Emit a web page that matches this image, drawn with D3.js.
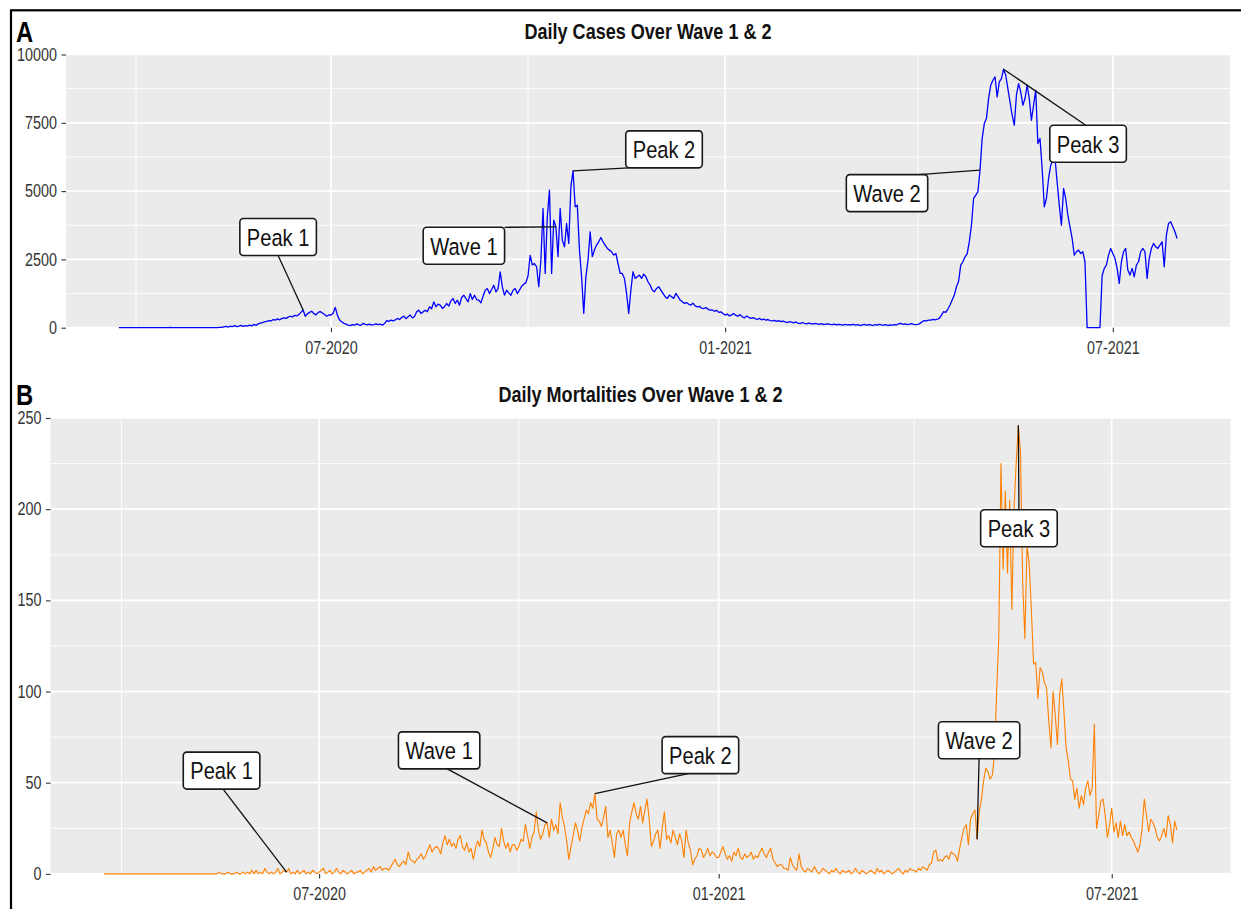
<!DOCTYPE html>
<html>
<head>
<meta charset="utf-8">
<script src="https://cdn.jsdelivr.net/npm/d3@7"></script>
<style>
  html, body { margin: 0; padding: 0; background: #ffffff; }
  svg { display: block; }
</style>
</head>
<body>
<svg id="chart" width="1241" height="909"></svg>
<script>
// ---- Daily series, one array per calendar month (first day: 24 Mar 2020) ----
const seriesStart = "2020-03-24";

// Daily confirmed cases
const casesMar2020 = [0, 1, 0, 2, 0, 0, 1, 0];
const casesApr2020 = [0, 0, 1, 0, 0, 0, 0, 0, 0, 0, 0, 0, 0, 2, 0, 0, 7, 2, 0, 0, 1, 0, 0, 0, 0, 0, 0, 0, 4, 2];
const casesMay2020 = [2, 1, 0, 3, 0, 5, 2, 1, 6, 13, 9, 30, 47, 25, 53, 41, 76, 38, 60, 86, 52, 75, 59, 92, 66, 120, 84, 140, 171, 185, 212];
const casesJun2020 = [230, 258, 246, 300, 276, 322, 290, 334, 362, 340, 385, 420, 392, 452, 430, 478, 560, 647, 418, 505, 560, 602, 516, 470, 558, 590, 540, 482, 420, 465];
const casesJul2020 = [465, 530, 745, 460, 280, 220, 160, 130, 95, 75, 110, 90, 140, 105, 85, 160, 120, 100, 130, 95, 115, 140, 110, 130, 90, 150, 260, 230, 280, 250, 285];
const casesAug2020 = [340, 300, 376, 425, 330, 400, 461, 360, 410, 583, 643, 522, 580, 640, 585, 765, 692, 947, 765, 862, 825, 704, 770, 886, 790, 983, 1068, 886, 1007, 825, 1105];
const casesSep2020 = [1190, 1068, 947, 1250, 1032, 1190, 1032, 1007, 910, 1153, 1372, 1432, 1250, 1396, 1554, 1311, 1432, 2040, 1493, 1190, 1372, 1275, 1190, 1372, 1432, 1250, 1372, 1518, 1590, 1650];
const casesOct2020 = [1900, 2650, 2300, 2350, 2230, 1500, 2475, 4364, 1987, 4060, 5035, 1987, 3937, 3694, 2600, 4364, 3206, 2960, 3815, 3084, 5156, 5742, 4425, 4486, 2840, 1865, 524, 1860, 2475, 3510, 2600];
const casesNov2020 = [2840, 3023, 3145, 3303, 3145, 3023, 2900, 2840, 2780, 2657, 2720, 2350, 1987, 1987, 1800, 1256, 524, 1377, 2048, 1804, 1865, 1926, 1804, 1963, 1865, 1682, 1560, 1377, 1316, 1438];
const casesDec2020 = [1500, 1377, 1256, 1134, 1073, 1195, 1134, 1073, 1256, 1134, 1012, 951, 890, 920, 860, 830, 900, 800, 760, 780, 720, 700, 740, 680, 640, 650, 600, 640, 560, 580, 520];
const casesJan2021 = [463, 500, 430, 470, 520, 450, 420, 480, 400, 360, 430, 380, 340, 370, 330, 300, 340, 290, 310, 280, 300, 260, 250, 270, 230, 260, 220, 240, 210, 190, 220];
const casesFeb2021 = [200, 180, 210, 170, 150, 190, 160, 140, 170, 150, 130, 160, 140, 120, 150, 110, 130, 140, 120, 110, 130, 100, 120, 110, 90, 120, 100, 110];
const casesMar2021 = [100, 120, 90, 110, 80, 100, 120, 90, 110, 100, 80, 110, 95, 120, 100, 90, 110, 80, 105, 95, 110, 100, 145, 160, 125, 140, 115, 130, 150, 120, 110];
const casesApr2021 = [122, 158, 220, 256, 250, 280, 275, 305, 290, 310, 341, 463, 585, 560, 683, 829, 1012, 1195, 1500, 1700, 2290, 2414, 2596, 2700, 3150, 3750, 4730, 4850, 4974, 5768];
const casesMay2021 = [6924, 7472, 7655, 8387, 8874, 9057, 9179, 8448, 8996, 9118, 9462, 9240, 8752, 8265, 7777, 7412, 8509, 8935, 8630, 8143, 8387, 8874, 8387, 7594, 8143, 8692, 6741, 6924, 5827, 4425, 4730];
const casesJun2021 = [5461, 5949, 6132, 6193, 5339, 4486, 3755, 5095, 4730, 4120, 3694, 3267, 2657, 2780, 2840, 2718, 2780, 2414, 0, 0, 0, 0, 0, 0, 0, 1900, 2170, 2290, 2657, 2900];
const casesJul2021 = [2718, 2535, 2170, 1621, 2414, 2780, 2900, 2109, 1926, 2170, 1865, 2290, 2414, 2780, 2900, 2780, 1804, 2535, 2900, 3084, 2962, 2900, 3023, 3145, 2230, 3389, 3815, 3876, 3694, 3511, 3267];

// Daily deaths
const deathsMar2020 = [0, 0, 0, 0, 0, 0, 0, 0];
const deathsApr2020 = [0, 0, 0, 0, 0, 0, 0, 0, 0, 0, 0, 0, 0, 0, 0, 0, 0, 0, 0, 0, 0, 0, 0, 0, 0, 0, 0, 0, 0, 0];
const deathsMay2020 = [0, 0, 0, 0, 0, 0, 0, 0, 0, 0, 0, 0, 0, 0, 0, 1, 0, 0, 0, 1, 0, 0, 0, 1, 0, 0, 1, 0, 1, 0, 2];
const deathsJun2020 = [0, 2, 0, 1, 0, 3, 1, 0, 1, 0, 1, 3, 0, 1, 2, 1, 3, 0, 1, 0, 2, 0, 1, 2, 0, 1, 0, 2, 1, 0];
const deathsJul2020 = [1, 2, 3, 0, 1, 2, 0, 1, 3, 1, 0, 2, 1, 0, 1, 2, 0, 1, 1, 2, 0, 1, 2, 3, 1, 4, 2, 3, 4, 2, 3];
const deathsAug2020 = [3, 2, 4, 6, 8, 5, 4, 6, 7, 5, 12, 8, 7, 6, 8, 9, 11, 8, 10, 13, 16, 12, 14, 15, 14, 11, 17, 21, 16, 19, 15];
const deathsSep2020 = [17, 14, 19, 21, 15, 13, 17, 12, 14, 8, 14, 18, 15, 24, 19, 17, 12, 9, 14, 20, 16, 15, 25, 18, 14, 17, 12, 16, 16, 13];
const deathsOct2020 = [15, 19, 18, 27, 21, 14, 20, 23, 34, 24, 19, 22, 27, 28, 20, 30, 24, 27, 22, 39, 31, 26, 18, 8, 15, 21, 28, 24, 18, 25, 30];
const deathsNov2020 = [35, 33, 39, 36, 44, 30, 29, 26, 31, 37, 20, 24, 17, 9, 22, 24, 20, 24, 16, 10, 28, 34, 39, 33, 30, 37, 28, 35, 41, 30];
const deathsDec2020 = [15, 18, 22, 24, 14, 25, 34, 19, 21, 17, 24, 20, 16, 22, 18, 9, 24, 17, 13, 5, 8, 10, 14, 13, 9, 11, 14, 10, 12, 11, 9];
const deathsJan2021 = [9, 12, 15, 11, 8, 10, 7, 12, 10, 14, 9, 8, 11, 9, 10, 12, 8, 10, 9, 12, 14, 11, 9, 12, 14, 8, 6, 4, 5, 5, 3];
const deathsFeb2021 = [3, 2, 9, 5, 3, 2, 11, 4, 2, 1, 3, 2, 1, 4, 2, 0, 1, 3, 2, 1, 0, 2, 1, 3, 1, 0, 2, 1];
const deathsMar2021 = [1, 2, 0, 1, 3, 1, 0, 2, 1, 0, 1, 2, 1, 0, 3, 1, 2, 0, 1, 2, 1, 0, 1, 2, 3, 1, 0, 2, 1, 3, 2];
const deathsApr2021 = [2, 1, 3, 2, 4, 3, 2, 5, 6, 12, 13, 7, 8, 7, 9, 10, 8, 12, 11, 10, 7, 14, 20, 25, 27, 16, 30, 33, 35, 19];
const deathsMay2021 = [34, 41, 51, 58, 56, 52, 54, 65, 100, 130, 225, 167, 210, 165, 205, 145, 200, 225, 246, 231, 160, 129, 180, 170, 145, 115, 116, 96, 113, 111, 105];
const deathsJun2021 = [102, 84, 69, 100, 87, 71, 98, 107, 89, 69, 62, 52, 51, 41, 47, 36, 43, 38, 47, 51, 43, 47, 82, 25, 32, 40, 41, 32, 20, 27];
const deathsJul2021 = [36, 23, 28, 20, 29, 21, 27, 21, 23, 20, 18, 15, 12, 16, 25, 41, 32, 23, 30, 28, 25, 20, 18, 21, 25, 20, 32, 27, 17, 29, 24];

// Axis ticks
const casesTicks = [0, 2500, 5000, 7500, 10000];
const deathsTicks = [0, 50, 100, 150, 200, 250];
const dateTickLabels = ["07-2020", "01-2021", "07-2021"];

// Annotated days
const casesMarks = [
  { text: "Peak 1", date: "2020-06-18" },
  { text: "Wave 1", date: "2020-10-14" },
  { text: "Peak 2", date: "2020-10-22" },
  { text: "Wave 2", date: "2021-04-30" },
  { text: "Peak 3", date: "2021-05-11" }
];
const deathsMarks = [
  { text: "Peak 1", date: "2020-06-16" },
  { text: "Wave 1", date: "2020-10-14" },
  { text: "Peak 2", date: "2020-11-05" },
  { text: "Wave 2", date: "2021-04-30" },
  { text: "Peak 3", date: "2021-05-19" }
];

// ---- Label placement (box centre offset from the marked point, leader anchor on the box) ----
const casesLabelLayout = [
  { dx: -25, dy: -73, ax: 0.5, ay: 1 },
  { dx: -92, dy: 19, ax: 1, ay: 0 },
  { dx: 91, dy: -21.5, ax: 0.04, ay: 1 },
  { dx: -93, dy: 23, ax: 0.89, ay: 0 },
  { dx: 84.5, dy: 74.5, ax: 0.47, ay: 0 }
];
const deathsLabelLayout = [
  { dx: -65, dy: -101.5, ax: 0.52, ay: 1 },
  { dx: -108, dy: -72.5, ax: 0.6, ay: 1 },
  { dx: 105.5, dy: -38.5, ax: 0.34, ay: 1 },
  { dx: 2, dy: -99, ax: 0.5, ay: 1 },
  { dx: 0.6, dy: 103, ax: 0.5, ay: 0 }
];

// ---- Build dated series ----
const parseDay = d3.utcParse("%Y-%m-%d");
const day0 = parseDay(seriesStart);
const toSeries = months => months.flat().map((v, i) => ({ date: d3.utcDay.offset(day0, i), value: v }));

const cases = toSeries([casesMar2020, casesApr2020, casesMay2020, casesJun2020, casesJul2020, casesAug2020,
  casesSep2020, casesOct2020, casesNov2020, casesDec2020, casesJan2021, casesFeb2021, casesMar2021,
  casesApr2021, casesMay2021, casesJun2021, casesJul2021]);
const deaths = toSeries([deathsMar2020, deathsApr2020, deathsMay2020, deathsJun2020, deathsJul2020, deathsAug2020,
  deathsSep2020, deathsOct2020, deathsNov2020, deathsDec2020, deathsJan2021, deathsFeb2021, deathsMar2021,
  deathsApr2021, deathsMay2021, deathsJun2021, deathsJul2021]);

// Narrow sans look: regular Liberation Sans squeezed horizontally
const FONT = "'Liberation Sans', Arial, sans-serif";
const NARROW = 0.82;
function narrow(sel) {
  sel.each(function () {
    const len = this.getComputedTextLength();
    d3.select(this).attr("textLength", len * NARROW).attr("lengthAdjust", "spacingAndGlyphs");
  });
}

const svg = d3.select("#chart");
svg.append("rect").attr("width", 1241).attr("height", 909).attr("fill", "#ffffff");

function drawPanel(opt) {
  const { series, left, right, top, bottom, yMax, ticks, color, lineWidth, title, titleY, tag, tagY, marks, layout } = opt;
  const g = svg.append("g");

  const t0 = series[0].date, t1 = series[series.length - 1].date;
  const span = t1 - t0;
  const x = d3.scaleUtc()
    .domain([new Date(+t0 - 0.05 * span), new Date(+t1 + 0.05 * span)])
    .range([left, right]);
  const y = d3.scaleLinear().domain([0, yMax]).range([bottom, top]);

  // panel background
  g.append("rect").attr("x", left).attr("y", top)
    .attr("width", right - left).attr("height", bottom - top).attr("fill", "#EBEBEB");

  // grid: quarter months, majors on Jan/Jul
  const quarters = d3.utcMonth.range(x.domain()[0], x.domain()[1]).filter(d => d.getUTCMonth() % 3 === 0);
  const majorX = quarters.filter(d => d.getUTCMonth() % 6 === 0);
  const minorX = quarters.filter(d => d.getUTCMonth() % 6 !== 0);
  const step = ticks[1] - ticks[0];
  const minorY = d3.range(step / 2, yMax, step);

  g.selectAll(null).data(minorY).join("line")
    .attr("x1", left).attr("x2", right).attr("y1", d => y(d)).attr("y2", d => y(d))
    .attr("stroke", "#ffffff").attr("stroke-width", 0.9);
  g.selectAll(null).data(minorX).join("line")
    .attr("x1", d => x(d)).attr("x2", d => x(d)).attr("y1", top).attr("y2", bottom)
    .attr("stroke", "#ffffff").attr("stroke-width", 0.9);
  g.selectAll(null).data(ticks).join("line")
    .attr("x1", left).attr("x2", right).attr("y1", d => y(d)).attr("y2", d => y(d))
    .attr("stroke", "#ffffff").attr("stroke-width", 1.7);
  g.selectAll(null).data(majorX).join("line")
    .attr("x1", d => x(d)).attr("x2", d => x(d)).attr("y1", top).attr("y2", bottom)
    .attr("stroke", "#ffffff").attr("stroke-width", 1.7);

  // axes
  const fmt = d3.utcFormat("%m-%Y");
  const yAxis = g.append("g").attr("transform", `translate(${left},0)`)
    .call(d3.axisLeft(y).tickValues(ticks).tickFormat(d3.format("d")).tickSize(4.5).tickPadding(4.5));
  const xAxis = g.append("g").attr("transform", `translate(0,${bottom})`)
    .call(d3.axisBottom(x).tickValues(majorX.filter(d => dateTickLabels.includes(fmt(d))))
      .tickFormat(fmt).tickSize(4.5).tickPadding(9));
  [yAxis, xAxis].forEach(a => {
    a.attr("font-family", FONT).attr("font-size", 17.5);
    a.select(".domain").remove();
    a.selectAll(".tick line").attr("stroke", "#333333").attr("stroke-width", 1.1);
    a.selectAll(".tick text").attr("fill", "#333333").call(narrow);
  });

  // series line
  const line = d3.line().x(d => x(d.date)).y(d => y(d.value));
  g.append("path").datum(series)
    .attr("fill", "none").attr("stroke", color).attr("stroke-width", lineWidth)
    .attr("stroke-linejoin", "round").attr("d", line);

  // labelled annotations
  const dayIndex = d => d3.utcDay.count(day0, parseDay(d));
  marks.forEach((m, i) => {
    const pt = series[dayIndex(m.date)];
    const px = x(pt.date), py = y(pt.value);
    const L = layout[i];
    const cx = px + L.dx, cy = py + L.dy;
    const lg = g.append("g");
    const seg = lg.append("line").attr("stroke", "#111111").attr("stroke-width", 1.3);
    const box = lg.append("rect").attr("rx", 3.5).attr("ry", 3.5)
      .attr("fill", "#ffffff").attr("stroke", "#1a1a1a").attr("stroke-width", 1.6);
    const txt = lg.append("text").attr("x", cx).attr("y", cy).attr("dy", "0.36em")
      .attr("text-anchor", "middle").attr("font-family", FONT).attr("font-size", 24.5)
      .attr("fill", "#111111").text(m.text);
    const w = txt.node().getComputedTextLength() * NARROW + 14, h = 37;
    txt.call(narrow);
    const bx = cx - w / 2, by = cy - h / 2;
    box.attr("x", bx).attr("y", by).attr("width", w).attr("height", h);
    seg.attr("x1", bx + L.ax * w).attr("y1", by + L.ay * h).attr("x2", px).attr("y2", py);
  });

  // title and panel tag
  svg.append("text").attr("x", (left + right) / 2).attr("y", titleY)
    .attr("text-anchor", "middle").attr("font-family", FONT).attr("font-weight", "bold")
    .attr("font-size", 22).attr("fill", "#111111").text(title).call(narrow);
  svg.append("text").attr("x", 16).attr("y", tagY)
    .attr("font-family", FONT).attr("font-weight", "bold")
    .attr("font-size", 29).attr("fill", "#000000").text(tag).call(narrow);
}

drawPanel({
  series: cases, left: 66, right: 1230, top: 54.5, bottom: 327.7, yMax: 10000, ticks: casesTicks,
  color: "#0000FF", lineWidth: 1.3, title: "Daily Cases Over Wave 1 & 2", titleY: 39,
  tag: "A", tagY: 41.5, marks: casesMarks, layout: casesLabelLayout
});
drawPanel({
  series: deaths, left: 50.5, right: 1230.5, top: 418, bottom: 873.9, yMax: 250, ticks: deathsTicks,
  color: "#FF8000", lineWidth: 1.1, title: "Daily Mortalities Over Wave 1 & 2", titleY: 401.5,
  tag: "B", tagY: 404.5, marks: deathsMarks, layout: deathsLabelLayout
});

// outer frame
svg.append("rect").attr("x", 11).attr("y", 10.3).attr("width", 1400).attr("height", 1000)
  .attr("fill", "none").attr("stroke", "#000000").attr("stroke-width", 2.2);
</script>
</body>
</html>
